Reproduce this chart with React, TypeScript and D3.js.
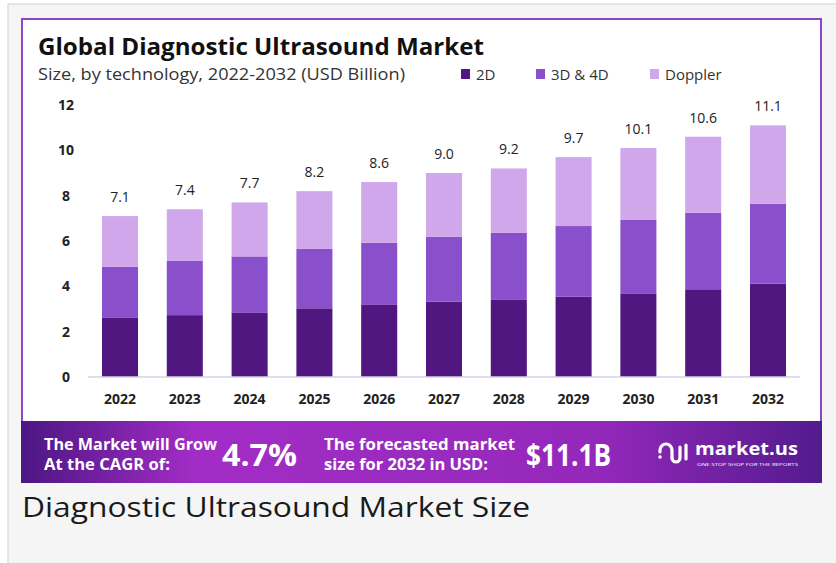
import React from "react";
import * as d3 from "d3";

// values in USD Billion
const years = ["2022", "2023", "2024", "2025", "2026", "2027", "2028", "2029", "2030", "2031", "2032"];
const twoD = [2.63, 2.73, 2.85, 3.03, 3.18, 3.32, 3.4, 3.54, 3.69, 3.87, 4.12];
const threeFourD = [2.24, 2.39, 2.47, 2.62, 2.74, 2.86, 2.97, 3.12, 3.24, 3.38, 3.52];
const doppler = [2.23, 2.28, 2.38, 2.55, 2.68, 2.82, 2.83, 3.04, 3.17, 3.35, 3.46];
const totals = ["7.1", "7.4", "7.7", "8.2", "8.6", "9.0", "9.2", "9.7", "10.1", "10.6", "11.1"];
const yTicks = [0, 2, 4, 6, 8, 10, 12];
const seriesNames = ["2D", "3D & 4D", "Doppler"];
const seriesKeys = ["twoD", "threeFourD", "doppler"];
const colors = ["#4f177f", "#8a4fcb", "#d0a7ea"];

const FONT = "'Open Sans', 'DejaVu Sans', sans-serif";

function App() {
  const rows = years.map((y, i) => ({
    year: y,
    twoD: twoD[i],
    threeFourD: threeFourD[i],
    doppler: doppler[i],
  }));
  const stacked = d3.stack<any>().keys(seriesKeys)(rows);

  const x = d3
    .scaleBand()
    .domain(years)
    .range([88, 800])
    .paddingInner(0.444)
    .paddingOuter(0.216);
  const y = d3.scaleLinear().domain([0, 12]).range([377, 105]);

  const legendX = [461, 536, 650];

  return (
    <svg
      width={836}
      height={563}
      style={{ position: "absolute", left: 0, top: 0, display: "block" }}
    >
      <defs>
        <linearGradient id="banner" x1="0" x2="1" y1="0" y2="0">
          <stop offset="0" stopColor="#4c1683" />
          <stop offset="0.22" stopColor="#a22dc6" />
          <stop offset="0.5" stopColor="#9a2bbf" />
          <stop offset="0.72" stopColor="#9428bb" />
          <stop offset="1" stopColor="#521b8d" />
        </linearGradient>
      </defs>

      {/* page frame */}
      <rect x={8} y={4} width={840} height={570} fill="#f5f5f5" stroke="#dedede" strokeWidth={1.5} />

      {/* chart card */}
      <rect x={21} y={18} width={801} height={404} fill="#ffffff" />
      <path d="M22,422 V19 H821 V422" fill="none" stroke="#8e45c6" strokeWidth={2} />

      <text x={38} y={55} fontFamily={FONT} fontWeight={700} fontSize={23} fill="#111"
        textLength={446} lengthAdjust="spacingAndGlyphs">
        Global Diagnostic Ultrasound Market
      </text>
      <text x={38} y={80} fontFamily={FONT} fontSize={15.5} fill="#333"
        textLength={367} lengthAdjust="spacingAndGlyphs">
        Size, by technology, 2022-2032 (USD Billion)
      </text>

      {/* legend */}
      {seriesNames.map((name, i) => (
        <g key={name}>
          <rect x={legendX[i]} y={69} width={9} height={10} fill={colors[i]} />
          <text x={legendX[i] + 15} y={80} fontFamily={FONT} fontSize={15} fill="#333">
            {name}
          </text>
        </g>
      ))}

      {/* y axis labels */}
      {yTicks.map((t) => (
        <text key={t} x={66} y={y(t)} dy="0.35em" textAnchor="middle" fontFamily={FONT}
          fontWeight={700} fontSize={14} fill="#222">
          {t}
        </text>
      ))}

      {/* bars */}
      {stacked.map((layer, si) => (
        <g key={layer.key} fill={colors[si]}>
          {layer.map((d, i) => (
            <rect
              key={i}
              x={x(years[i])}
              y={y(d[1])}
              width={x.bandwidth()}
              height={y(d[0]) - y(d[1])}
            />
          ))}
        </g>
      ))}

      <line x1={88} x2={800} y1={y(0)} y2={y(0)} stroke="#d9d2e6" strokeWidth={1.5} />

      {/* totals */}
      {years.map((yr, i) => (
        <text key={yr} x={(x(yr) || 0) + x.bandwidth() / 2}
          y={y(twoD[i] + threeFourD[i] + doppler[i]) - 14}
          textAnchor="middle" fontFamily={FONT} fontSize={14} fill="#222">
          {totals[i]}
        </text>
      ))}

      {/* x labels */}
      {years.map((yr) => (
        <text key={yr} x={(x(yr) || 0) + x.bandwidth() / 2} y={404} textAnchor="middle"
          fontFamily={FONT} fontWeight={700} fontSize={14} fill="#222">
          {yr}
        </text>
      ))}

      {/* banner */}
      <rect x={21} y={421} width={801} height={62} fill="url(#banner)" />
      <g fill="#ffffff" fontFamily={FONT} fontWeight={700}>
        <text x={44} y={450} fontSize={15.5} textLength={173} lengthAdjust="spacingAndGlyphs">
          The Market will Grow
        </text>
        <text x={44} y={470} fontSize={15.5} textLength={126} lengthAdjust="spacingAndGlyphs">
          At the CAGR of:
        </text>
        <text x={222} y={466} fontSize={31} textLength={75} lengthAdjust="spacingAndGlyphs">
          4.7%
        </text>
        <text x={324} y={450} fontSize={15.5} textLength={191} lengthAdjust="spacingAndGlyphs">
          The forecasted market
        </text>
        <text x={324} y={470} fontSize={15.5} textLength={164} lengthAdjust="spacingAndGlyphs">
          size for 2032 in USD:
        </text>
        <text x={526} y={466} fontSize={31} textLength={85} lengthAdjust="spacingAndGlyphs">
          $11.1B
        </text>

        {/* market.us logo */}
        <g fill="none" stroke="#ffffff" strokeWidth={3.2} strokeLinecap="round">
          <path d="M660,452 v-2 a6,6 0 0 1 12,0 v8" />
          <path d="M672,458 a4,4 0 0 0 8,0 v-11" />
          <path d="M686,445 v14" />
        </g>
        <circle cx={660} cy={457} r={1.8} fill="#ffffff" />
        <text x={695} y={455} fontSize={18} textLength={103} lengthAdjust="spacingAndGlyphs">
          market.us
        </text>
        <text x={697} y={466} fontSize={4} fontWeight={400} textLength={101} lengthAdjust="spacingAndGlyphs">
          ONE STOP SHOP FOR THE REPORTS
        </text>
      </g>

      {/* caption */}
      <text x={22} y={517} fontFamily={FONT} fontSize={27} fill="#1a1a1a"
        textLength={508} lengthAdjust="spacingAndGlyphs">
        Diagnostic Ultrasound Market Size
      </text>
    </svg>
  );
}

export default App;
